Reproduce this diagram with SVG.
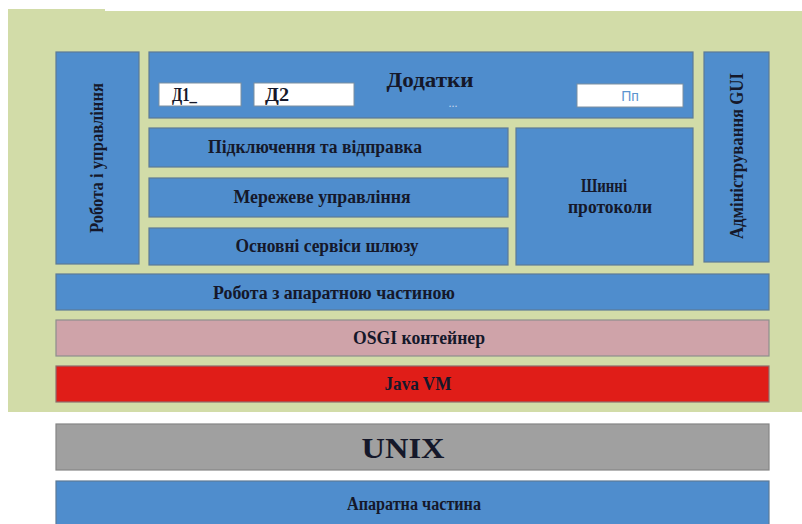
<svg xmlns="http://www.w3.org/2000/svg" width="802" height="524" viewBox="0 0 802 524">
<style>
.b{fill:#4f8dcd;stroke:#5d7a96;stroke-width:1.2}
.w{fill:#ffffff;stroke:#7d8fa0;stroke-width:1}
.t{font-family:"Liberation Serif",serif;font-weight:bold;font-size:18px;fill:#15182a;text-anchor:middle;dominant-baseline:central}
</style>
<rect x="0" y="0" width="802" height="524" fill="#ffffff"/>
<path d="M8 9 H105 V11 H802 V412 H8 Z" fill="#d2dca8"/>
<g id="robota-upravlinnia"><rect class="b" x="56" y="52" width="83" height="212"/><text class="t" transform="translate(97,158) rotate(-90)" textLength="150" lengthAdjust="spacingAndGlyphs">Робота і управління</text></g>
<g id="dodatky"><rect class="b" x="149" y="52" width="544" height="66"/><text class="t" x="430" y="80" style="font-size:20px" textLength="87" lengthAdjust="spacingAndGlyphs">Додатки</text><text class="t" x="453" y="103" style="font-size:12px;fill:#c4d6ec;font-weight:normal">...</text></g>
<g id="d1"><rect class="w" x="159" y="83" width="82" height="23"/><text class="t" x="172" y="95" style="text-anchor:start" textLength="25" lengthAdjust="spacingAndGlyphs">Д1_</text></g>
<g id="d2"><rect class="w" x="254" y="83" width="100" height="23"/><text class="t" x="265" y="95" style="text-anchor:start" textLength="24" lengthAdjust="spacingAndGlyphs">Д2</text></g>
<g id="pp"><rect class="w" x="577" y="84" width="106" height="23"/><text class="t" x="630" y="96" style="font-family:'Liberation Sans',sans-serif;font-weight:normal;fill:#5b94cf;font-size:14px">Пп</text></g>
<g id="pidkliuchennia"><rect class="b" x="149" y="128" width="359" height="39"/><text class="t" x="315" y="147" textLength="214" lengthAdjust="spacingAndGlyphs">Підключення та відправка</text></g>
<g id="merezheve"><rect class="b" x="149" y="178" width="359" height="39"/><text class="t" x="322" y="197" textLength="177" lengthAdjust="spacingAndGlyphs">Мережеве управління</text></g>
<g id="osnovni"><rect class="b" x="149" y="228" width="359" height="37"/><text class="t" x="327" y="246" textLength="183" lengthAdjust="spacingAndGlyphs">Основні сервіси шлюзу</text></g>
<g id="shynni"><rect class="b" x="516" y="128" width="177" height="137"/><text class="t" x="604" y="186" textLength="46" lengthAdjust="spacingAndGlyphs">Шинні</text><text class="t" x="610" y="207" textLength="84" lengthAdjust="spacingAndGlyphs">протоколи</text></g>
<g id="admin-gui"><rect class="b" x="704" y="52" width="65" height="210"/><text class="t" transform="translate(737,156) rotate(-90)" textLength="166" lengthAdjust="spacingAndGlyphs">Адміністрування GUI</text></g>
<g id="aparatna-robota"><rect class="b" x="56" y="274" width="713" height="36"/><text class="t" x="334" y="293" textLength="242" lengthAdjust="spacingAndGlyphs">Робота з апаратною частиною</text></g>
<g id="osgi"><rect x="56" y="320" width="713" height="36" fill="#cfa3a9" stroke="#8e8e8e" stroke-width="1.2"/><text class="t" x="419" y="338" textLength="132" lengthAdjust="spacingAndGlyphs">OSGI контейнер</text></g>
<g id="java-vm"><rect x="56" y="366" width="713" height="36" fill="#e01d18" stroke="#8e6e6e" stroke-width="1.2"/><text class="t" x="418" y="384" textLength="67" lengthAdjust="spacingAndGlyphs">Java VM</text></g>
<g id="unix"><rect x="56" y="424" width="713" height="46" fill="#a0a0a0" stroke="#858585" stroke-width="1.2"/><text class="t" x="403" y="447" style="font-size:30px" textLength="83" lengthAdjust="spacingAndGlyphs">UNIX</text></g>
<g id="aparatna-chastyna"><rect class="b" x="56" y="481" width="713" height="45"/><text class="t" x="414" y="504" textLength="134" lengthAdjust="spacingAndGlyphs">Апаратна частина</text></g>
<g id="connectors"></g>
</svg>
